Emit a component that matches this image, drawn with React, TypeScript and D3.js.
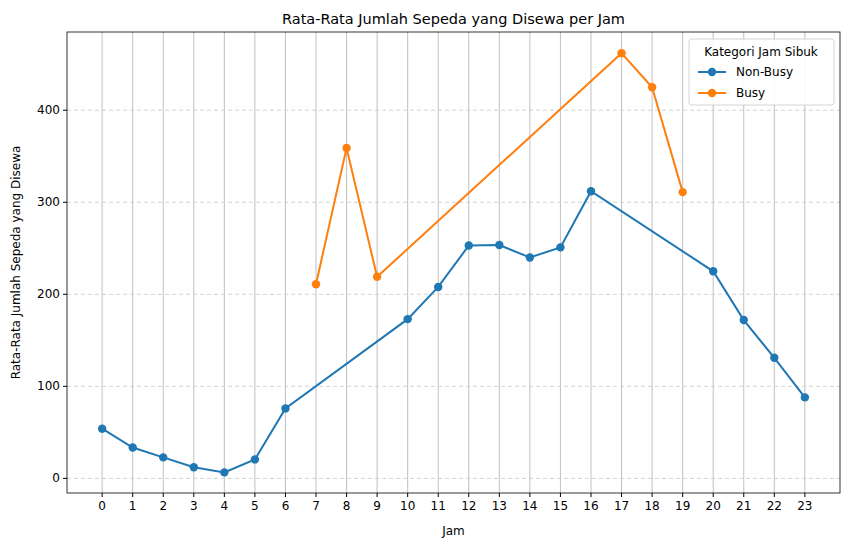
import React from "react";
import * as d3 from "d3";

const hours = d3.range(0, 24);
const nonBusyHours = [0,1,2,3,4,5,6,10,11,12,13,14,15,16,20,21,22,23];
const nonBusyValues = [54,33.5,22.8,12,6.5,20.6,76,173,208,253,253.5,240,251,312,225,172,131,88];
const busyHours = [7,8,9,17,18,19];
const busyValues = [211,359,219,462,425,311];
const yTicks = [0,100,200,300,400];

export default function App() {
  const W = 850, H = 547;
  const L = 67, R = 840, T = 32, B = 493;
  const x = d3.scaleLinear().domain([-1.15, 24.15]).range([L, R]);
  const y = d3.scaleLinear().domain([-15.9, 485]).range([B, T]);
  const line = d3.line<[number, number]>().x(d => x(d[0])).y(d => y(d[1]));
  const nb = nonBusyHours.map((h, i) => [h, nonBusyValues[i]] as [number, number]);
  const bu = busyHours.map((h, i) => [h, busyValues[i]] as [number, number]);
  const font = "DejaVu Sans, sans-serif";
  return (
    <svg width={W} height={H} style={{ position: "absolute", left: 0, top: 0 }} fontFamily={font}>
      <rect width={W} height={H} fill="white" />
      {hours.map(h => <line key={h} x1={x(h)} x2={x(h)} y1={T} y2={B} stroke="#b0b0b0" strokeWidth={0.8} />)}
      {yTicks.map(t => <line key={t} x1={L} x2={R} y1={y(t)} y2={y(t)} stroke="#c8c8c8" strokeWidth={0.8} strokeDasharray="4,3" />)}
      <path d={line(nb)!} fill="none" stroke="#1f77b4" strokeWidth={2} />
      {nb.map((d, i) => <circle key={i} cx={x(d[0])} cy={y(d[1])} r={4.2} fill="#1f77b4" />)}
      <path d={line(bu)!} fill="none" stroke="#ff7f0e" strokeWidth={2} />
      {bu.map((d, i) => <circle key={i} cx={x(d[0])} cy={y(d[1])} r={4.2} fill="#ff7f0e" />)}
      <rect x={L} y={T} width={R - L} height={B - T} fill="none" stroke="black" strokeWidth={0.8} />
      {hours.map(h => (
        <g key={h}>
          <line x1={x(h)} x2={x(h)} y1={B} y2={B + 4} stroke="black" />
          <text x={x(h)} y={B + 17} fontSize={12} textAnchor="middle">{h}</text>
        </g>
      ))}
      {yTicks.map(t => (
        <g key={t}>
          <line x1={L - 4} x2={L} y1={y(t)} y2={y(t)} stroke="black" />
          <text x={L - 7} y={y(t) + 4} fontSize={12} textAnchor="end">{t}</text>
        </g>
      ))}
      <text x={(L + R) / 2} y={535} fontSize={12} textAnchor="middle">Jam</text>
      <text transform={`translate(20,${(T + B) / 2}) rotate(-90)`} fontSize={12} textAnchor="middle">Rata-Rata Jumlah Sepeda yang Disewa</text>
      <text x={(L + R) / 2} y={24} fontSize={14.5} textAnchor="middle">Rata-Rata Jumlah Sepeda yang Disewa per Jam</text>
      <g transform="translate(689,39)">
        <rect width={145} height={66} fill="white" stroke="#d0d0d0" rx={3} opacity={0.9} />
        <text x={72} y={17} fontSize={12} textAnchor="middle">Kategori Jam Sibuk</text>
        <line x1={9} x2={37} y1={33} y2={33} stroke="#1f77b4" strokeWidth={2} />
        <circle cx={23} cy={33} r={4.2} fill="#1f77b4" />
        <text x={47} y={37} fontSize={12}>Non-Busy</text>
        <line x1={9} x2={37} y1={54} y2={54} stroke="#ff7f0e" strokeWidth={2} />
        <circle cx={23} cy={54} r={4.2} fill="#ff7f0e" />
        <text x={47} y={58} fontSize={12}>Busy</text>
      </g>
    </svg>
  );
}
